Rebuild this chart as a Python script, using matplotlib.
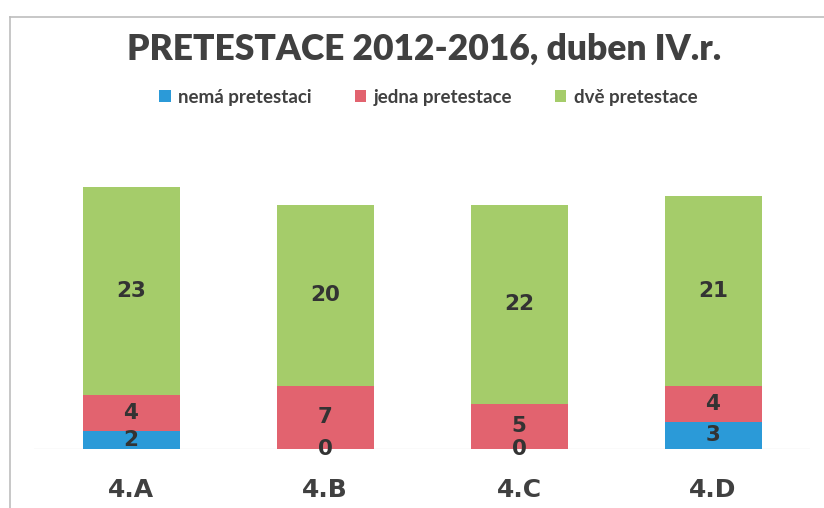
import matplotlib
matplotlib.use("Agg")
import matplotlib.pyplot as plt
from matplotlib.lines import Line2D
from matplotlib.patches import Patch

categories = ["4.A", "4.B", "4.C", "4.D"]
series_names = ["nemá pretestaci", "jedna pretestace", "dvě pretestace"]
nema = [2, 0, 0, 3]
jedna = [4, 7, 5, 4]
dve = [23, 20, 22, 21]
colors = ["#2B9AD8", "#E2636F", "#A5CC6A"]

W, H = 824, 508
fig = plt.figure(figsize=(W / 100, H / 100), dpi=100)
fig.patch.set_facecolor("white")

ax = fig.add_axes([34 / W, (H - 449) / H, 776 / W, 271 / H])
ax.set_xlim(-0.5, 3.5)
ax.set_ylim(0, 30)
ax.axis("off")

x = list(range(len(categories)))
bottom = [0] * len(categories)
for vals, col in zip([nema, jedna, dve], colors):
    ax.bar(x, vals, width=0.5, bottom=bottom, color=col, zorder=2)
    for xi, v, b in zip(x, vals, bottom):
        ax.text(xi, b + v / 2, str(v), ha="center", va="center",
                fontsize=15.5, fontweight="bold", color="#333333",
                family="DejaVu Sans", zorder=3)
    bottom = [b + v for b, v in zip(bottom, vals)]

ax.axhline(0, color="#e6e6e6", lw=1, zorder=1)

for xi, c in zip(x, categories):
    ax.text(xi, -4.5, c, ha="center", va="center", fontsize=18,
            fontweight="bold", color="#404040", family="DejaVu Sans",
            transform=ax.transData, clip_on=False)

fig.text(0.515, (H - 49) / H, "PRETESTACE 2012-2016, duben IV.r.",
         ha="center", va="center", fontsize=25.5, fontweight="heavy",
         color="#404040", family="Lato")

handles = [Patch(facecolor=c, edgecolor="none") for c in colors]
fig.legend(handles, series_names, loc="center", ncol=3,
           bbox_to_anchor=(0.52, (H - 97) / H), frameon=False,
           prop={"family": "Lato", "size": 13.5, "weight": "bold"},
           labelcolor="#404040",
           handlelength=0.6, handleheight=0.6, handletextpad=0.4,
           columnspacing=2.3)

# light frame (top and left)
fig.add_artist(Line2D([10 / W, 1], [(H - 17) / H, (H - 17) / H],
                      transform=fig.transFigure, color="#bdbdbd", lw=1.2))
fig.add_artist(Line2D([10 / W, 10 / W], [0, (H - 17) / H],
                      transform=fig.transFigure, color="#bdbdbd", lw=1.2))

fig.savefig("out.png", dpi=100, facecolor="white")
